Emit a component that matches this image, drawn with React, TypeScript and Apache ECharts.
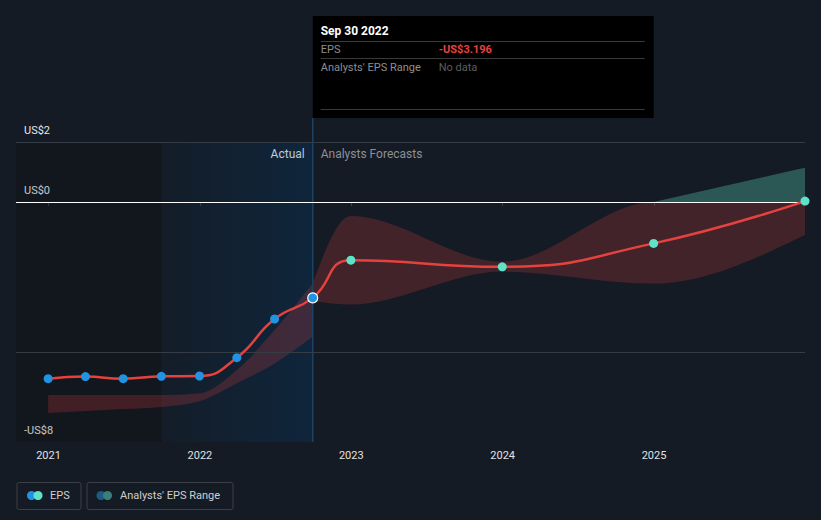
import React, { useEffect, useRef } from "react";
import * as echarts from "echarts";

// ---- data ----
const actualDates = ["2020-12-31", "2021-03-31", "2021-06-30", "2021-09-30", "2021-12-31", "2022-03-31", "2022-06-30", "2022-09-30"];
const actualEps = [-5.89, -5.82, -5.89, -5.81, -5.8, -5.19, -3.9, -3.196];
const historicRangeLow = [-7.03, -6.97, -6.9, -6.83, -6.64, -6.04, -5.38, -4.49];
const historicRangeHigh = [-6.43, -6.43, -6.43, -6.43, -6.38, -5.6, -4.27, -2.71];

const forecastDates = ["2022-12-31", "2023-12-31", "2024-12-31", "2025-12-31"];
const forecastEps = [-1.94, -2.16, -1.38, 0.03];

const rangeDates = ["2022-09-30", "2022-12-31", "2023-12-31", "2024-12-31", "2025-12-31"];
const rangeLow = [-3.3, -3.42, -2.32, -2.72, -1.1];
const rangeHigh = [-2.7, -0.47, -1.99, 0.0, 1.14];

const yearTicks = [2021, 2022, 2023, 2024, 2025];
const yLabelValues = [-8, 0, 2];
const gridLineValues = [2, -5];
const highlightStart = "2021-09-30";

const X_MIN = 2020.785;
const Y_MIN = -8;
const Y_MAX = 2;

const BLUE = "#2193e0";
const TEAL = "#5ee3c8";
const RED = "#e5423f";
const FONT = "Roboto, 'Noto Sans', sans-serif";

function toYear(d: string): number {
  const t = Date.parse(d + "T00:00:00Z");
  const y = new Date(t).getUTCFullYear();
  const s = Date.UTC(y, 0, 1);
  const e = Date.UTC(y + 1, 0, 1);
  return y + (t - s) / (e - s);
}

const MONTHS = ["Jan", "Feb", "Mar", "Apr", "May", "Jun", "Jul", "Aug", "Sep", "Oct", "Nov", "Dec"];
function fmtDate(d: string): string {
  const [y, m, day] = d.split("-");
  return `${MONTHS[parseInt(m, 10) - 1]} ${parseInt(day, 10)} ${y}`;
}
function fmtUsd(v: number, digits = 0): string {
  const a = Math.abs(v).toFixed(digits);
  return v < 0 ? `-US$${a}` : `US$${a}`;
}

// monotone-x cubic tangents (pixel space)
function sign(v: number) {
  return v < 0 ? -1 : 1;
}
function tangents(p: number[][]): number[] {
  const n = p.length;
  const t = new Array(n).fill(0);
  if (n < 2) return t;
  const s: number[] = [];
  for (let i = 0; i < n - 1; i++) {
    const h = p[i + 1][0] - p[i][0];
    s.push(h ? (p[i + 1][1] - p[i][1]) / h : 0);
  }
  for (let i = 1; i < n - 1; i++) {
    const h0 = p[i][0] - p[i - 1][0];
    const h1 = p[i + 1][0] - p[i][0];
    const s0 = s[i - 1];
    const s1 = s[i];
    const pp = (s0 * h1 + s1 * h0) / (h0 + h1);
    t[i] = (sign(s0) + sign(s1)) * Math.min(Math.abs(s0), Math.abs(s1), 0.5 * Math.abs(pp)) || 0;
  }
  if (n === 2) {
    t[0] = s[0];
    t[1] = s[0];
  } else {
    const h0 = p[1][0] - p[0][0];
    t[0] = h0 ? (3 * s[0] - t[1]) / 2 : t[1];
    const hn = p[n - 1][0] - p[n - 2][0];
    t[n - 1] = hn ? (3 * s[n - 2] - t[n - 2]) / 2 : t[n - 2];
  }
  return t;
}
function bandPath(up: number[][], lo: number[][]): string {
  const tu = tangents(up);
  const tl = tangents(lo);
  const n = up.length;
  let d = `M${up[0][0]},${up[0][1]}`;
  for (let i = 0; i < n - 1; i++) {
    const dx = (up[i + 1][0] - up[i][0]) / 3;
    d += ` C${up[i][0] + dx},${up[i][1] + dx * tu[i]} ${up[i + 1][0] - dx},${up[i + 1][1] - dx * tu[i + 1]} ${up[i + 1][0]},${up[i + 1][1]}`;
  }
  d += ` L${lo[n - 1][0]},${lo[n - 1][1]}`;
  for (let i = n - 1; i > 0; i--) {
    const dx = (lo[i][0] - lo[i - 1][0]) / 3;
    d += ` C${lo[i][0] - dx},${lo[i][1] - dx * tl[i]} ${lo[i - 1][0] + dx},${lo[i - 1][1] + dx * tl[i - 1]} ${lo[i - 1][0]},${lo[i - 1][1]}`;
  }
  return d + " Z";
}

function bandSeries(xs: number[], lows: number[], highs: number[], color: string) {
  return {
    type: "custom",
    coordinateSystem: "cartesian2d",
    silent: true,
    clip: true,
    z: 2,
    data: xs.map((x, i) => [x, lows[i], highs[i]]),
    encode: { x: 0, y: [1, 2] },
    renderItem: (params: any, api: any) => {
      if (params.dataIndex !== 0) return { type: "group", children: [] };
      const up = xs.map((x, i) => api.coord([x, highs[i]]));
      const lo = xs.map((x, i) => api.coord([x, lows[i]]));
      return {
        type: "path",
        shape: { pathData: bandPath(up, lo) },
        style: { fill: color, stroke: "none" },
      };
    },
  };
}

export default function App() {
  const ref = useRef<HTMLDivElement>(null);

  useEffect(() => {
    if (!ref.current) return;
    const chart = echarts.init(ref.current, null, { renderer: "svg" });

    const X_MAX = toYear(forecastDates[forecastDates.length - 1]);
    const lastIdx = actualDates.length - 1;
    const lastActualX = toYear(actualDates[lastIdx]);

    const histX = actualDates.map(toYear);
    const rangeX = rangeDates.map(toYear);

    const redHigh = rangeHigh.map((v) => Math.min(v, 0));
    const greenIdx = rangeX.map((_, i) => i).filter((i) => rangeHigh[i] >= 0);
    const greenX = greenIdx.map((i) => rangeX[i]);
    const greenLow = greenIdx.map((i) => Math.max(rangeLow[i], 0));
    const greenHigh = greenIdx.map((i) => Math.max(rangeHigh[i], 0));

    const epsData: any[] = [];
    actualDates.forEach((d, i) => {
      const isLast = i === lastIdx;
      epsData.push({
        value: [toYear(d), actualEps[i]],
        symbolSize: isLast ? 10 : 9,
        itemStyle: isLast
          ? { color: BLUE, borderColor: "#ffffff", borderWidth: 1.2 }
          : { color: BLUE },
      });
    });
    forecastDates.forEach((d, i) => {
      epsData.push({ value: [toYear(d), forecastEps[i]], itemStyle: { color: TEAL } });
    });

    const gridStyle = { color: "#363c45", width: 1, type: "solid" };

    chart.setOption({
      animation: false,
      backgroundColor: "#151b24",
      textStyle: { fontFamily: FONT },
      grid: { left: 16, right: 16, top: 142, bottom: 78, containLabel: false },
      xAxis: {
        type: "value",
        min: X_MIN,
        max: X_MAX,
        splitLine: { show: false },
        axisLine: { show: true, lineStyle: { color: "#3a3f48", width: 1 } },
        axisTick: { show: true, length: 4, lineStyle: { color: "#3a3f48" }, customValues: yearTicks },
        axisLabel: {
          customValues: yearTicks,
          color: "#e2e2e2",
          fontSize: 11,
          margin: 8,
          formatter: (v: number) => String(Math.round(v)),
        },
      },
      yAxis: {
        type: "value",
        min: Y_MIN,
        max: Y_MAX,
        interval: 1,
        splitLine: { show: false },
        axisLine: { show: false },
        axisTick: { show: false },
        axisLabel: {
          inside: true,
          customValues: yLabelValues,
          formatter: (v: number) => fmtUsd(v),
          color: "#e6e6e6",
          fontSize: 11,
          margin: 8,
          align: "left",
          verticalAlign: "bottom",
          padding: [0, 0, 6, 0],
        },
      },
      series: [
        {
          type: "line",
          data: [],
          silent: true,
          z: 1,
          markArea: {
            silent: true,
            data: [
              [
                { xAxis: X_MIN, itemStyle: { color: "rgba(0,0,0,0.14)" } },
                { xAxis: toYear(highlightStart) },
              ],
              [
                {
                  xAxis: toYear(highlightStart),
                  itemStyle: {
                    color: new echarts.graphic.LinearGradient(0, 0, 1, 0, [
                      { offset: 0, color: "rgba(0,60,110,0.06)" },
                      { offset: 1, color: "rgba(0,60,110,0.32)" },
                    ]),
                  },
                },
                { xAxis: lastActualX },
              ],
            ],
          },
          markLine: {
            silent: true,
            symbol: ["none", "none"],
            label: { show: false },
            data: [
              ...gridLineValues.map((v) => ({ yAxis: v, lineStyle: gridStyle })),
              { yAxis: 0, lineStyle: { color: "#ffffff", width: 1, type: "solid" } },
            ],
          },
        },
        bandSeries(histX, historicRangeLow, historicRangeHigh, "rgba(232,64,64,0.22)"),
        bandSeries(rangeX, rangeLow, redHigh, "rgba(232,64,64,0.22)"),
        bandSeries(greenX, greenLow, greenHigh, "rgba(95,227,200,0.3)"),
        {
          type: "line",
          name: "EPS",
          data: epsData,
          smooth: 0.5,
          symbol: "circle",
          symbolSize: 9,
          lineStyle: { color: RED, width: 2.5 },
          itemStyle: { color: BLUE },
          z: 5,
        },
      ],
    });

    const lx = chart.convertToPixel({ gridIndex: 0 }, [lastActualX, 0])[0];
    const gTop = chart.convertToPixel({ gridIndex: 0 }, [lastActualX, Y_MAX])[1];
    const gBot = chart.convertToPixel({ gridIndex: 0 }, [lastActualX, Y_MIN])[1];

    const tipLeft = lx;
    const tipTop = 16;
    const tipW = 341;
    const tipH = 102;
    const tx = tipLeft + 8;
    const vx = tipLeft + 126;

    const txt = (text: string, x: number, y: number, fill: string, fontSize = 11, fontWeight: any = "normal", align = "left") => ({
      type: "text",
      style: { text, x, y, fill, fontSize, fontWeight, fontFamily: FONT, align, verticalAlign: "middle" },
    });
    const hline = (x1: number, x2: number, y: number, stroke: string) => ({
      type: "line",
      shape: { x1, y1: y, x2, y2: y },
      style: { stroke, lineWidth: 1 },
    });

    chart.setOption({
      graphic: [
        {
          type: "line",
          z: 3,
          shape: { x1: lx, y1: tipTop + tipH, x2: lx, y2: gBot },
          style: { stroke: "#1c4263", lineWidth: 1.5 },
          silent: true,
        },
        {
          type: "group",
          z: 3,
          silent: true,
          children: [
            txt("Actual", lx - 8, gTop + 12, "#ffffff", 12, "normal", "right"),
            txt("Analysts Forecasts", lx + 8, gTop + 12, "#8b9097", 12),
          ],
        },
        {
          type: "group",
          z: 20,
          silent: true,
          children: [
            { type: "rect", shape: { x: tipLeft, y: tipTop, width: tipW, height: tipH }, style: { fill: "#000000" } },
            txt(fmtDate(actualDates[lastIdx]), tx, tipTop + 15, "#ffffff", 12, "bold"),
            hline(tx, tipLeft + tipW - 9, tipTop + 25.5, "#3a3a3a"),
            txt("EPS", tx, tipTop + 33, "#8e8e8e", 11),
            txt(fmtUsd(actualEps[lastIdx], 3), vx, tipTop + 33, "#e8413f", 11, "bold"),
            hline(tx, tipLeft + tipW - 9, tipTop + 42.5, "#3a3a3a"),
            txt("Analysts' EPS Range", tx, tipTop + 51, "#8e8e8e", 11),
            txt("No data", vx, tipTop + 51, "#5e5e5e", 11),
            hline(tx, tipLeft + tipW - 9, tipTop + 93.5, "#3a3a3a"),
          ],
        },
        {
          type: "group",
          z: 20,
          silent: true,
          children: [
            { type: "rect", shape: { x: 17, y: 482.5, width: 64, height: 27, r: 2 }, style: { fill: "none", stroke: "#3a3f48", lineWidth: 1 } },
            { type: "circle", shape: { cx: 31.5, cy: 495.5, r: 4.5 }, style: { fill: BLUE } },
            { type: "circle", shape: { cx: 38, cy: 495.5, r: 4.5 }, style: { fill: TEAL } },
            txt("EPS", 50, 495.5, "#cfcfcf", 11),
            { type: "rect", shape: { x: 87, y: 482.5, width: 146, height: 27, r: 2 }, style: { fill: "none", stroke: "#3a3f48", lineWidth: 1 } },
            { type: "circle", shape: { cx: 101, cy: 495.5, r: 4.5 }, style: { fill: "#1d5a86" } },
            { type: "circle", shape: { cx: 107.5, cy: 495.5, r: 4.5 }, style: { fill: "#3c7f78" } },
            txt("Analysts' EPS Range", 120, 495.5, "#cfcfcf", 11),
          ],
        },
      ],
    });

    return () => {
      chart.dispose();
    };
  }, []);

  return (
    <div
      ref={ref}
      style={{ position: "fixed", left: 0, top: 0, width: 821, height: 520 }}
    />
  );
}
